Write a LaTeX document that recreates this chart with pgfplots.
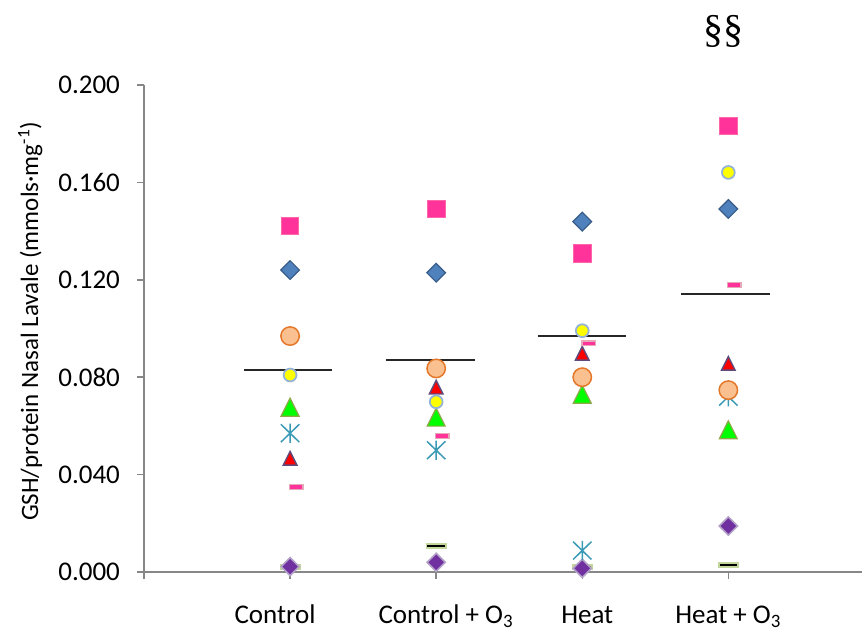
\documentclass[border=0pt]{standalone}
\usepackage{fontspec}
\setmainfont{Carlito}
\newfontfamily\serifsym{Liberation Serif}
\usepackage{pgfplots}
\pgfplotsset{compat=1.18}

\definecolor{axgray}{HTML}{878787}
\definecolor{pinksq}{HTML}{FF3399}
\definecolor{pinksqo}{HTML}{FF66AA}
\definecolor{blued}{HTML}{4F81BD}
\definecolor{bluedo}{HTML}{385D8A}
\definecolor{orfill}{HTML}{FAC090}
\definecolor{orline}{HTML}{E4782A}
\definecolor{yelfill}{HTML}{FFFF00}
\definecolor{yelline}{HTML}{95B3D7}
\definecolor{grfill}{HTML}{00FF00}
\definecolor{grline}{HTML}{8FA84A}
\definecolor{teal}{HTML}{3A9AB5}
\definecolor{redfill}{HTML}{FF0000}
\definecolor{redline}{HTML}{604A7B}
\definecolor{pdline}{HTML}{E6A9B8}
\definecolor{bdline}{HTML}{C3D69B}
\definecolor{purfill}{HTML}{7030A0}
\definecolor{purline}{HTML}{B3A2C7}

\makeatletter
\pgfdeclareplotmark{etri}{%
  \pgfpathmoveto{\pgfqpoint{0pt}{\pgfplotmarksize}}%
  \pgfpathlineto{\pgfqpoint{\pgfplotmarksize}{-\pgfplotmarksize}}%
  \pgfpathlineto{\pgfqpoint{-\pgfplotmarksize}{-\pgfplotmarksize}}%
  \pgfpathclose\pgfusepathqfillstroke}
\pgfdeclareplotmark{xstar}{%
  \pgfpathmoveto{\pgfqpoint{0pt}{\pgfplotmarksize}}%
  \pgfpathlineto{\pgfqpoint{0pt}{-\pgfplotmarksize}}%
  \pgfpathmoveto{\pgfqpoint{-.95\pgfplotmarksize}{.92\pgfplotmarksize}}%
  \pgfpathlineto{\pgfqpoint{.95\pgfplotmarksize}{-.92\pgfplotmarksize}}%
  \pgfpathmoveto{\pgfqpoint{.95\pgfplotmarksize}{.92\pgfplotmarksize}}%
  \pgfpathlineto{\pgfqpoint{-.95\pgfplotmarksize}{-.92\pgfplotmarksize}}%
  \pgfusepathqstroke}
\pgfdeclareplotmark{pdash}{%
  \pgfpathrectangle{\pgfqpoint{-\pgfplotmarksize}{-.35\pgfplotmarksize}}{\pgfqpoint{2\pgfplotmarksize}{.7\pgfplotmarksize}}%
  \pgfusepathqfillstroke}
\pgfdeclareplotmark{bdash}{%
  \pgfpathrectangle{\pgfqpoint{-\pgfplotmarksize}{-.21\pgfplotmarksize}}{\pgfqpoint{2\pgfplotmarksize}{.42\pgfplotmarksize}}%
  \pgfusepathqfillstroke}
\makeatother

\begin{document}
\begin{tikzpicture}
\useasboundingbox (-72pt,-30pt) rectangle (360.5pt,286pt);
\begin{axis}[
  scale only axis, width=359pt, height=243.5pt,
  xmin=0, xmax=4.915, ymin=0, ymax=0.2,
  axis lines*=left,
  axis line style={draw=axgray, line width=0.75pt},
  clip=false,
  tick align=outside, major tick length=3.5pt,
  tick style={draw=axgray, line width=0.75pt},
  xtick={0,1,2,3,4},
  xticklabels={,\makebox[0pt]{\hspace*{-15pt}Control},\makebox[0pt]{\hspace*{10pt}Control + O\textsubscript{3}},\makebox[0pt]{\hspace*{5pt}Heat},Heat + O\textsubscript{3}},
  xticklabel style={font=\fontsize{13.5}{15}\selectfont, anchor=base, yshift=-22pt},
  ytick={0,0.04,0.08,0.12,0.16,0.2},
  yticklabels={0.000,0.040,0.080,0.120,0.160,0.200},
  yticklabel style={font=\fontsize{13.5}{15}\selectfont, xshift=-5pt},
  ylabel={GSH/protein Nasal Lavale (mmols·mg\textsuperscript{-1})},
  ylabel style={font=\fontsize{12.5}{15}\selectfont, at={(axis description cs:-0.1476,0.515)}, rotate=0, anchor=base},
]
% black dash
\addplot[only marks, mark=bdash, mark size=4.8pt, mark options={fill=black, draw=bdline, line width=0.9pt}]
  coordinates {(1,0.0020) (2,0.0107) (3,0.0020) (4,0.0029)};
% purple diamond
\addplot[only marks, mark=square*, mark size=3.2pt, mark options={rotate=45, fill=purfill, draw=purline, line width=0.8pt}]
  coordinates {(1,0.0022) (2,0.0040) (3,0.0015) (4,0.0189)};
% green triangle
\addplot[only marks, mark=etri, mark size=4.5pt, mark options={fill=grfill, draw=grline, line width=0.6pt}]
  coordinates {(1,0.0677) (2,0.0636) (3,0.0730) (4,0.0584)};
% asterisk
\addplot[only marks, mark=xstar, mark size=4.85pt, mark options={draw=teal, line width=0.75pt}]
  coordinates {(1,0.0570) (2,0.0500) (3,0.0088) (4,0.0720)};
% red triangle
\addplot[only marks, mark=etri, mark size=3.4pt, mark options={fill=redfill, draw=redline, line width=0.7pt}]
  coordinates {(1,0.0467) (2,0.0759) (3,0.0898) (4,0.0857)};
% pink dash
\addplot[only marks, mark=pdash, mark size=3.4pt, mark options={fill=pinksq, draw=pdline, line width=0.7pt}]
  coordinates {(1.042,0.0349) (2.041,0.0558) (3.044,0.0939) (4.041,0.1179)};
% orange circle
\addplot[only marks, mark=*, mark size=4.6pt, mark options={fill=orfill, draw=orline, line width=0.75pt}]
  coordinates {(1,0.0969) (2,0.0836) (3,0.0800) (4,0.0747)};
% yellow circle
\addplot[only marks, mark=*, mark size=3.2pt, mark options={fill=yelfill, draw=yelline, line width=0.9pt}]
  coordinates {(1,0.0809) (2,0.0699) (3,0.0991) (4,0.1641)};
% blue diamond
\addplot[only marks, mark=square*, mark size=3.3pt, mark options={rotate=45, fill=blued, draw=bluedo, line width=0.6pt}]
  coordinates {(1,0.1240) (2,0.1229) (3,0.1439) (4,0.1491)};
% pink square
\addplot[only marks, mark=square*, mark size=4.45pt, mark options={fill=pinksq, draw=pinksqo, line width=0.5pt}]
  coordinates {(1,0.1421) (2,0.1491) (3,0.1309) (4,0.1832)};
% means
\addplot[black!85, line width=0.85pt] coordinates {(0.685,0.0831) (1.288,0.0831)};
\addplot[black!85, line width=0.85pt] coordinates {(1.657,0.0871) (2.266,0.0871)};
\addplot[black!85, line width=0.85pt] coordinates {(2.696,0.0970) (3.299,0.0970)};
\addplot[black!85, line width=0.85pt] coordinates {(3.677,0.1142) (4.282,0.1142)};
\node[font=\fontsize{20}{24}\serifsym] at (axis cs:3.97,0.2218) {§§};
\end{axis}
\end{tikzpicture}
\end{document}
